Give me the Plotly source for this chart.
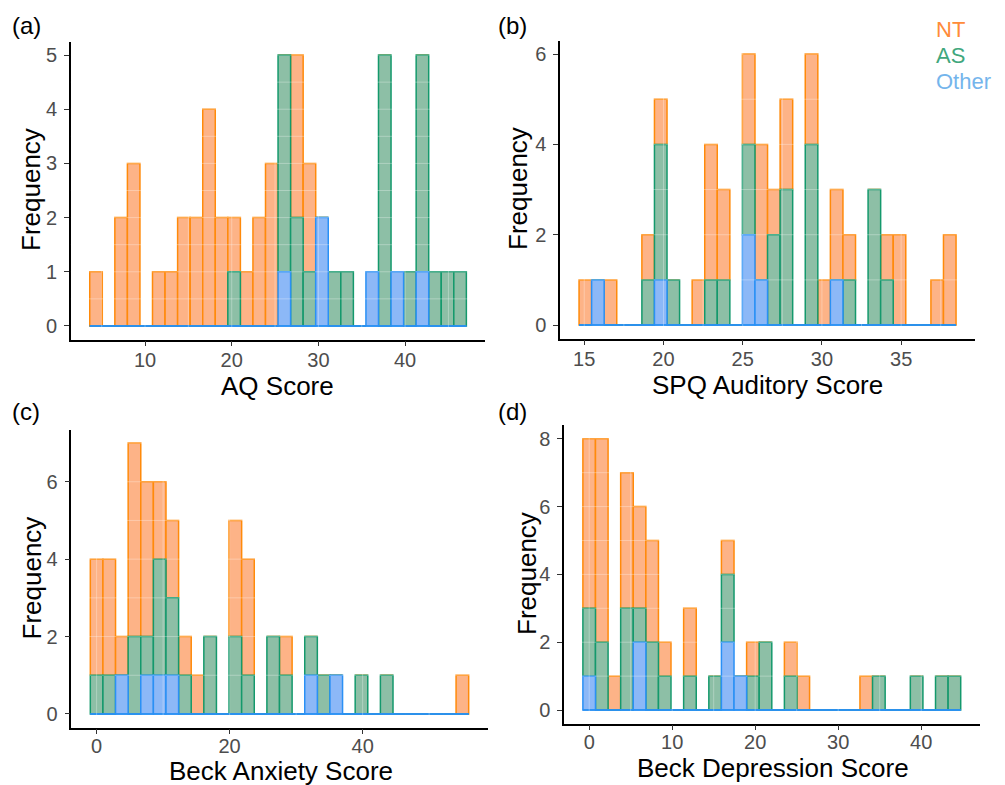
import numpy as np
import plotly.graph_objects as go

W, H = 1005, 785
BINS = 30

# ---------------- data (counts per histogram bin, 30 bins each) ----------------
groups = ["NT", "AS", "Other"]

aq_range = (4, 46)
aq_nt    = [1,0,2,3,0,1,1,2,2,4,2,1,1,2,3,0,3,2,0,0,0,0,0,0,0,0,0,0,0,0]
aq_as    = [0,0,0,0,0,0,0,0,0,0,0,1,0,0,0,4,2,1,0,1,1,0,0,5,0,1,4,1,1,1]
aq_other = [0,0,0,0,0,0,0,0,0,0,0,0,0,0,0,1,0,0,2,0,0,0,1,0,1,0,1,0,0,0]

spq_range = (15, 38)
spq_nt    = [1,0,1,0,0,1,1,0,0,1,3,2,0,2,3,1,2,0,2,1,2,1,0,0,1,2,0,0,1,2]
spq_as    = [0,0,0,0,0,1,3,1,0,0,1,1,0,2,0,2,3,0,4,0,0,1,0,3,1,0,0,0,0,0]
spq_other = [0,1,0,0,0,0,1,0,0,0,0,0,0,2,1,0,0,0,0,0,1,0,0,0,0,0,0,0,0,0]

bai_range = (0, 55)
bai_nt    = [3,3,1,5,4,2,2,1,1,0,0,3,3,0,0,1,0,0,0,0,0,0,0,0,0,0,0,0,0,1]
bai_as    = [1,1,0,2,1,3,2,1,0,2,0,2,1,0,2,1,0,1,1,0,0,1,0,1,0,0,0,0,0,0]
bai_other = [0,0,1,0,1,1,1,0,0,0,0,0,0,0,0,0,0,1,0,1,0,0,0,0,0,0,0,0,0,0]

bdi_range = (0, 44)
bdi_nt    = [5,6,1,4,3,3,1,0,2,0,0,1,0,1,0,0,1,1,0,0,0,0,1,0,0,0,0,0,0,0]
bdi_as    = [2,2,0,3,1,2,1,0,1,0,1,2,0,1,2,0,1,0,0,0,0,0,0,1,0,0,1,0,1,1]
bdi_other = [1,0,0,0,2,0,0,0,0,0,0,2,1,0,0,0,0,0,0,0,0,0,0,0,0,0,0,0,0,0]

x_titles = ["AQ Score", "SPQ Auditory Score", "Beck Anxiety Score", "Beck Depression Score"]
tags = ["(a)", "(b)", "(c)", "(d)"]

# ---------------- styles ----------------
FONT = "Liberation Sans, Arial, sans-serif"
fills = {"NT": "#FDB387", "AS": "#8DBFA6", "Other": "#8CB8F7"}
lines = {"NT": "#FF8A0A", "AS": "#14996C", "Other": "#2A90F5"}
legend_cols = {"NT": "#FF8B3A", "AS": "#41A77D", "Other": "#74B5EC"}

panels = [
    dict(rng=aq_range, counts=[aq_nt, aq_as, aq_other], xt=x_titles[0],
         xdom=(70.9, 485.2), ydom=(41.5, 339.5), xdt=10, ydt=1,
         tag=(10, 26), ytitle=(31, 190), xtitle=(277.5, 386), xso=-3),
    dict(rng=spq_range, counts=[spq_nt, spq_as, spq_other], xt=x_titles[1],
         xdom=(560.2, 974.9), ydom=(40.5, 338.6), xdt=5, ydt=2,
         tag=(496, 26), ytitle=(518, 189), xtitle=(767.5, 385), xso=-3),
    dict(rng=bai_range, counts=[bai_nt, bai_as, bai_other], xt=x_titles[2],
         xdom=(71.4, 487.6), ydom=(429.5, 727.5), xdt=20, ydt=2,
         tag=(10, 411), ytitle=(31, 578.5), xtitle=(281, 771), xso=-5),
    dict(rng=bdi_range, counts=[bdi_nt, bdi_as, bdi_other], xt=x_titles[3],
         xdom=(564.0, 979.6), ydom=(425.2, 723.6), xdt=10, ydt=2,
         tag=(496, 411), ytitle=(527, 574), xtitle=(773, 768), xso=-5),
]


def gg_breaks(mn, mx, bins=BINS):
    width = (mx - mn) / (bins - 1)
    boundary = width / 2
    shift = np.floor((mn - boundary) / width)
    origin = boundary + shift * width
    return origin + width * np.arange(bins + 1), width


def px(x):
    return x / W


def py(y):
    return 1 - y / H


fig = go.Figure()
layout = dict(width=W, height=H, margin=dict(l=0, r=0, t=0, b=0),
              paper_bgcolor="white", plot_bgcolor="white",
              barmode="overlay", showlegend=False,
              font=dict(family=FONT, color="black"))
annotations = []
shapes = []

for i, p in enumerate(panels):
    k = "" if i == 0 else str(i + 1)
    xa, ya = "x" + k, "y" + k
    edges, width = gg_breaks(*p["rng"])
    centers = (edges[:-1] + edges[1:]) / 2
    nt, as_, oth = [np.array(c) for c in p["counts"]]
    bases = {"Other": np.zeros(BINS), "AS": oth.astype(float), "NT": (oth + as_).astype(float)}
    vals = {"NT": nt, "AS": as_, "Other": oth}
    for g in groups:  # draw NT first, Other last (on top)
        fig.add_trace(go.Bar(
            x=centers, y=vals[g], base=bases[g], width=width,
            xaxis=xa, yaxis=ya,
            marker=dict(color=fills[g], line=dict(color=lines[g], width=1.5)),
            hoverinfo="skip"))
    # zero-height bars of the top-drawn group leave a baseline
    fig.add_trace(go.Scatter(x=[edges[0], edges[-1]], y=[0, 0], mode="lines",
                             line=dict(color=lines["Other"], width=1.6),
                             xaxis=xa, yaxis=ya, hoverinfo="skip"))

    ymax = float((nt + as_ + oth).max())
    span = edges[-1] - edges[0]
    xr = [edges[0] - 0.05 * span, edges[-1] + 0.05 * span]
    yr = [-0.05 * ymax, 1.05 * ymax]

    axcommon = dict(showgrid=False, zeroline=False, showline=True, linecolor="black",
                    linewidth=1.5, ticks="outside", ticklen=5, tickwidth=1.2,
                    tickcolor="#333333", tickfont=dict(size=20, color="#4D4D4D", family=FONT))
    layout["xaxis" + k] = dict(axcommon, domain=[px(p["xdom"][0]), px(p["xdom"][1])],
                               range=xr, tick0=0, dtick=p["xdt"], anchor=ya,
                               ticklabelstandoff=p["xso"])
    layout["yaxis" + k] = dict(axcommon, domain=[py(p["ydom"][1]), py(p["ydom"][0])],
                               range=yr, tick0=0, dtick=p["ydt"], anchor=xa,
                               ticklabelstandoff=3)

    # faint light grid lines, visible only over the bars
    xd, yd = p["xdt"], p["ydt"]
    xs = np.arange(np.ceil(xr[0] / (xd / 2)) * (xd / 2), xr[1], xd / 2)
    ys = np.arange(yd / 2, yr[1], yd / 2)
    for xv in xs:
        shapes.append(dict(type="line", xref=xa, yref=ya + " domain", x0=xv, x1=xv, y0=0, y1=1,
                           line=dict(color="rgba(255,255,255,0.3)", width=1), layer="above"))
    for yv in ys:
        shapes.append(dict(type="line", xref=xa + " domain", yref=ya, x0=0, x1=1, y0=yv, y1=yv,
                           line=dict(color="rgba(255,255,255,0.3)", width=1), layer="above"))

    annotations.append(dict(text=tags[i], x=px(p["tag"][0]), y=py(p["tag"][1]), xref="paper",
                            yref="paper", xanchor="left", yanchor="middle", showarrow=False,
                            font=dict(size=24, family=FONT, color="black")))
    annotations.append(dict(text="Frequency", x=px(p["ytitle"][0]), y=py(p["ytitle"][1]),
                            xref="paper", yref="paper", xanchor="center", yanchor="middle",
                            textangle=-90, showarrow=False,
                            font=dict(size=26, family=FONT, color="black")))
    annotations.append(dict(text=p["xt"], x=px(p["xtitle"][0]), y=py(p["xtitle"][1]),
                            xref="paper", yref="paper", xanchor="center", yanchor="middle",
                            showarrow=False, font=dict(size=26, family=FONT, color="black")))

# group labels (legend as coloured text)
for j, g in enumerate(groups):
    annotations.append(dict(text=g, x=px(934), y=py(30 + 26 * j), xref="paper", yref="paper",
                            xanchor="left", yanchor="middle", showarrow=False,
                            font=dict(size=22, family=FONT, color=legend_cols[g])))

layout["annotations"] = annotations
layout["shapes"] = shapes
fig.update_layout(**layout)
fig.write_html("out.html", config={"displayModeBar": False},
               post_script="document.body.style.margin='0';document.body.style.overflow='hidden';")
